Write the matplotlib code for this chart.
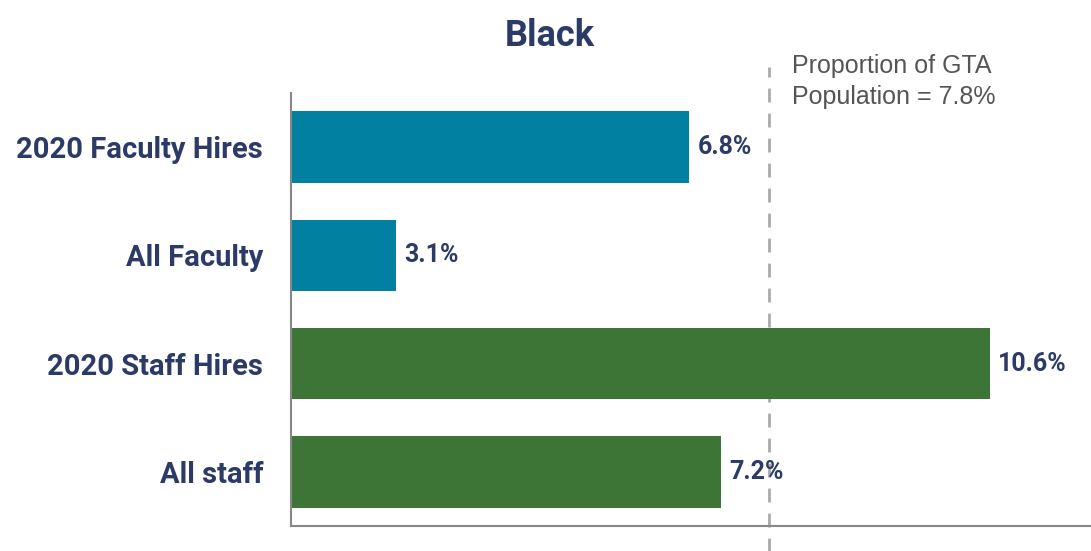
import matplotlib.pyplot as plt

# data
categories = ['2020 Faculty Hires', 'All Faculty', '2020 Staff Hires', 'All staff']
values = [6.8, 3.1, 10.6, 7.2]
bar_colors = ['#0180a2', '#0180a2', '#3c7535', '#3c7535']
gta_value = 7.8
title = 'Black'
note = 'Proportion of GTA\nPopulation = 7.8%'

navy = '#2b3a67'
bold_font = ['Roboto', 'DejaVu Sans']

fig = plt.figure(figsize=(10.91, 5.51), dpi=100)
ax = fig.add_axes([0.2667, 0.0454, 0.7333, 0.7858])

ypos = list(range(len(categories)))
ax.barh(ypos, values, height=0.66, color=bar_colors)

# the axis in the original starts a little above zero
ax.set_xlim(1.77, 11.87)
ax.set_ylim(3.5, -0.5)

for y, v in zip(ypos, values):
    ax.text(v + 0.1, y, f'{v}%', va='center', ha='left', color=navy,
            fontsize=18, fontweight='bold', family=bold_font)

# GTA population reference line
ax.axvline(gta_value, ymin=-0.06, ymax=1.06, color='#aaaaaa', lw=2,
           ls=(0, (5, 4)), clip_on=False, zorder=0)
ax.text(gta_value + 0.3, 1.09, note, transform=ax.get_xaxis_transform(),
        va='top', ha='left', fontsize=18, color='#555555',
        family=['Liberation Sans', 'DejaVu Sans'], linespacing=1.35)

ax.set_yticks(ypos)
ax.set_yticklabels(categories, color=navy, fontsize=21, fontweight='bold',
                   family=bold_font)
ax.tick_params(axis='y', length=0, pad=20)
ax.set_xticks([])

for side in ['top', 'right']:
    ax.spines[side].set_visible(False)
for side in ['left', 'bottom']:
    ax.spines[side].set_color('#888888')
    ax.spines[side].set_linewidth(1.5)

fig.text(0.504, 0.935, title, ha='center', va='center', color=navy,
         fontsize=26, fontweight='bold', family=bold_font)

fig.savefig('out.png', dpi=100)
